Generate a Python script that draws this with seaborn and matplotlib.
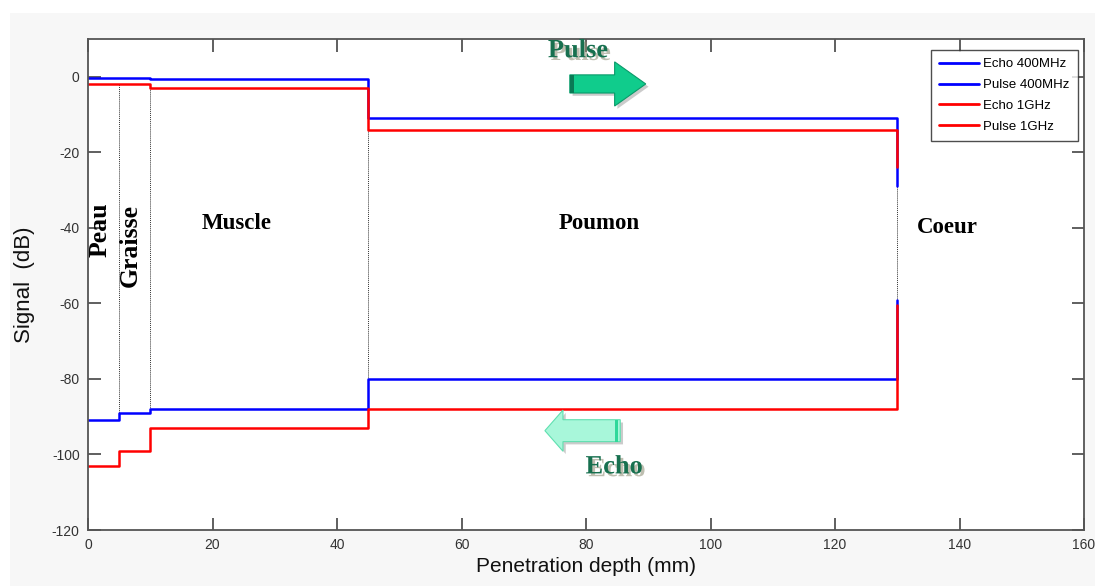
import numpy as np
import pandas as pd
import matplotlib
matplotlib.use("Agg")
import matplotlib.pyplot as plt
import matplotlib.patches as mpatches
import matplotlib.patheffects as pe
import seaborn as sns

# Tissue interfaces (mm) and the signal level (dB) inside each layer
depth_edges = [0, 5, 10, 45, 130]
tissues = ["Peau", "Graisse", "Muscle", "Poumon", "Coeur"]

echo_400 = [-91, -89, -88, -80]
echo_400_end = -59
pulse_400 = [-0.3, -0.3, -0.5, -11]
pulse_400_end = -29
echo_1g = [-103, -99, -93, -88]
echo_1g_end = -60.5
pulse_1g = [-2, -2, -3, -14]
pulse_1g_end = -24

series_names = ["Echo 400MHz", "Pulse 400MHz", "Echo 1GHz", "Pulse 1GHz"]
series_levels = [echo_400, pulse_400, echo_1g, pulse_1g]
series_ends = [echo_400_end, pulse_400_end, echo_1g_end, pulse_1g_end]
series_colors = ["#0000ff", "#0000ff", "#ff0000", "#ff0000"]

x_ticks = [0, 20, 40, 60, 80, 100, 120, 140, 160]
y_ticks = [-120, -100, -80, -60, -40, -20, 0]

sns.set_theme(style="ticks")
plt.rcParams["font.family"] = ["Liberation Sans", "DejaVu Sans"]
plt.rcParams["axes.unicode_minus"] = False
plt.rcParams["text.color"] = "black"

fig = plt.figure(figsize=(10.95, 5.86), dpi=100)
fig.patch.set_facecolor("white")
fig.add_artist(mpatches.Rectangle((10 / 1095, 0), 1, 1 - 13 / 586,
                                  transform=fig.transFigure,
                                  facecolor="#f7f7f7", edgecolor="none",
                                  zorder=-10))
ax = fig.add_axes([88 / 1095, 56 / 586, 996 / 1095, 491 / 586])
ax.set_facecolor("white")

# Build one long table of step curves
rows = []
for name, levels, end in zip(series_names, series_levels, series_ends):
    xs = list(depth_edges) + [depth_edges[-1]]
    ys = list(levels) + [levels[-1], end]
    for i, (x, y) in enumerate(zip(xs, ys)):
        rows.append({"depth": x, "signal": y, "series": name, "order": i})
df = pd.DataFrame(rows)

sns.lineplot(data=df, x="depth", y="signal", hue="series",
             hue_order=series_names, palette=dict(zip(series_names, series_colors)),
             estimator=None, sort=False, drawstyle="steps-post",
             linewidth=1.8, ax=ax, legend=True)

# Dotted interface lines between the pulse and echo curves
for i, x in enumerate(depth_edges[1:]):
    if x == depth_edges[-1]:
        top, bottom = pulse_400_end, echo_400_end
    else:
        top, bottom = pulse_1g[i], echo_400[i]
    ax.vlines(x, bottom, top, colors="#333333", linestyles=(0, (1, 1)),
              linewidth=0.7, zorder=1)

ax.set_xlim(0, 160)
ax.set_ylim(-120, 10)
ax.set_xticks(x_ticks)
ax.set_yticks(y_ticks)
ax.tick_params(direction="in", length=9, width=1.2, color="#444444",
               top=True, right=True, labelsize=10, labelcolor="#333333", pad=6)
for s in ax.spines.values():
    s.set_visible(True)
    s.set_color("#555555")
    s.set_linewidth(1.3)

ax.set_xlabel("Penetration depth (mm)", fontsize=15, labelpad=3, color="#111111")
ax.set_ylabel("Signal  (dB)", fontsize=16, labelpad=12, color="#111111")

leg = ax.legend(loc="upper right", bbox_to_anchor=(0.994, 0.978), borderaxespad=0,
                frameon=True, fancybox=False, fontsize=9.5, handlelength=3.0,
                labelspacing=0.66, borderpad=0.62, handletextpad=0.35)
leg.get_frame().set_edgecolor("#222222")
leg.get_frame().set_linewidth(1.0)
for h in leg.get_lines():
    h.set_linewidth(2)

# Tissue labels
serif = ["Liberation Serif", "DejaVu Serif"]
ax.text(1.9, -40.6, "Peau", rotation=90, ha="center", va="center",
        fontsize=18.5, fontweight="bold", family=serif, color="black")
ax.text(6.8, -44.6, "Graisse", rotation=90, ha="center", va="center",
        fontsize=18.5, fontweight="bold", family=serif, color="black")
ax.text(23.9, -38.8, "Muscle", ha="center", va="center",
        fontsize=16.5, fontweight="bold", family=serif, color="black")
ax.text(82.2, -38.8, "Poumon", ha="center", va="center",
        fontsize=16.5, fontweight="bold", family=serif, color="black")
ax.text(138.0, -39.8, "Coeur", ha="center", va="center",
        fontsize=16.5, fontweight="bold", family=serif, color="black")

# Direction arrows for the pulse and the echo
shadow = [pe.withSimplePatchShadow(offset=(2, -2), shadow_rgbFace="#999999", alpha=0.5)]
ax.add_patch(mpatches.FancyArrow(77.4, -1.9, 7.2, 0, width=4.8, head_width=11.7,
                                 head_length=5.0, length_includes_head=False,
                                 facecolor="#10cc8c", edgecolor="#0a9a6a",
                                 linewidth=0.8, path_effects=shadow, zorder=3))
ax.add_patch(mpatches.Rectangle((77.4, -4.3), 0.7, 4.8, facecolor="#0a7a55",
                                edgecolor="none", zorder=4))
ax.add_patch(mpatches.FancyArrow(85.5, -93.7, -9.2, 0, width=5.8, head_width=10.9,
                                 head_length=2.9, length_includes_head=False,
                                 facecolor="#a8f7da", edgecolor="#5fe0b0",
                                 linewidth=0.8, path_effects=shadow, zorder=3))
ax.add_patch(mpatches.Rectangle((84.6, -96.6), 0.6, 5.8, facecolor="#2fd89a",
                                edgecolor="none", zorder=4))

txt_fx = [pe.SimplePatchShadow(offset=(2, -2), shadow_rgbFace="#8a8a70", alpha=0.55),
          pe.Normal()]
ax.text(78.7, 6.9, "Pulse", ha="center", va="center", fontsize=19,
        fontweight="bold", family=serif, color="#17704f", path_effects=txt_fx)
ax.text(84.5, -103.3, "Echo", ha="center", va="center", fontsize=19,
        fontweight="bold", family=serif, color="#17704f", path_effects=txt_fx)

fig.savefig("out.png", dpi=100, facecolor=fig.get_facecolor())
